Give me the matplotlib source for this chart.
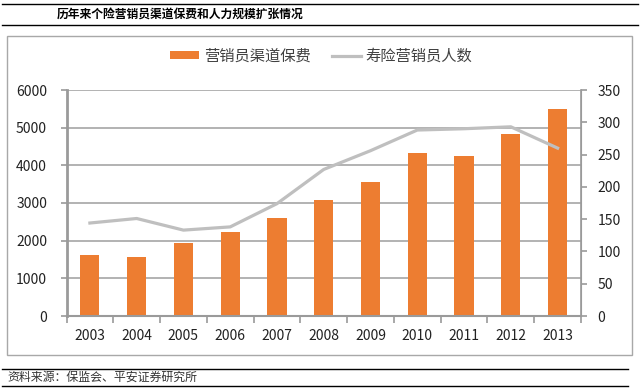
import matplotlib
matplotlib.use("Agg")
import matplotlib.pyplot as plt
from matplotlib.lines import Line2D
from matplotlib.patches import Rectangle, Patch
import numpy as np

plt.rcParams['font.family'] = ['Noto Sans CJK SC', 'DejaVu Sans']

years = ['2003', '2004', '2005', '2006', '2007', '2008', '2009', '2010', '2011', '2012', '2013']
premium = [1620, 1575, 1945, 2225, 2595, 3080, 3565, 4320, 4260, 4830, 5495]
agents = [144, 151, 133, 138, 174, 227, 256, 288, 290, 293, 260]

title = '历年来个险营销员渠道保费和人力规模扩张情况'
source = '资料来源：保监会、平安证券研究所'
bar_label = '营销员渠道保费'
line_label = '寿险营销员人数'

ORANGE = '#ED7D31'
LGRAY = '#BFBFBF'
AXGRAY = '#9a9a9a'
TXT = '#222222'

W, H = 640, 391
fig = plt.figure(figsize=(6.4, 3.91), dpi=100)

def fx(px):
    return px / W

def fy(py):
    return 1 - py / H

# header / footer rules
fig.add_artist(Line2D([fx(2), fx(638)], [fy(3.5), fy(3.5)], color='black', lw=1.0))
fig.add_artist(Line2D([fx(2), fx(638)], [fy(24.5), fy(24.5)], color='black', lw=1.0))
fig.add_artist(Line2D([fx(2), fx(628)], [fy(368.5), fy(368.5)], color='black', lw=1.0))
fig.add_artist(Line2D([fx(2), fx(628)], [fy(385.5), fy(385.5)], color='black', lw=1.0))
fig.text(fx(57), fy(14.5), title, fontsize=8.5, fontweight='bold', va='center', ha='left', color='black')
fig.text(fx(7), fy(377), source, fontsize=8.6, va='center', ha='left', color='#333333', style='italic')

# chart frame
fig.add_artist(Rectangle((fx(7), fy(355)), fx(632) - fx(7), fy(35.5) - fy(355),
                         transform=fig.transFigure, fill=False, edgecolor='#a8a8a8', lw=1.0))

ax = fig.add_axes([fx(66.5), fy(316), fx(581) - fx(66.5), fy(90) - fy(316)])
ax2 = ax.twinx()

x = np.arange(len(years))
ax.bar(x, premium, width=0.41, color=ORANGE, zorder=2)
ax2.plot(x, agents, color=LGRAY, lw=2.3, zorder=3)

ax.set_xlim(-0.5, len(years) - 0.5)
ax.set_ylim(0, 6000)
ax.set_yticks(np.arange(0, 6001, 1000))
ax2.set_ylim(0, 350)
ax2.set_yticks(np.arange(0, 351, 50))

ax.yaxis.grid(True, color='#a6a6a6', lw=1.2)
ax.set_axisbelow(True)

for a in (ax, ax2):
    a.spines['top'].set_visible(False)
    for s in ('left', 'right', 'bottom'):
        a.spines[s].set_color(AXGRAY)
ax.spines['left'].set_linewidth(2.0)
ax.spines['bottom'].set_linewidth(1.5)
ax2.spines['right'].set_linewidth(1.2)
ax2.spines['left'].set_visible(False)
ax2.spines['bottom'].set_visible(False)

ax.set_xticks(x)
ax.set_xticklabels(years)
ax.set_xticks(np.arange(-0.5, len(years), 1), minor=True)
ax.tick_params(axis='x', which='major', length=0, pad=9, labelsize=10, labelcolor=TXT)
ax.tick_params(axis='x', which='minor', length=5, width=1.2, color=AXGRAY, direction='out')
ax.tick_params(axis='y', length=4, width=1.2, color=AXGRAY, labelsize=10, labelcolor=TXT, pad=10)
ax2.tick_params(axis='y', length=4, width=1.2, color=AXGRAY, labelsize=10, labelcolor=TXT, pad=8)

handles = [Patch(facecolor=ORANGE, edgecolor='none', label=bar_label),
           Line2D([0], [0], color=LGRAY, lw=2.3, label=line_label)]
fig.legend(handles=handles, loc='center', bbox_to_anchor=(fx(321), fy(56)), ncol=2,
           frameon=False, fontsize=11, handlelength=1.9, handleheight=0.4,
           handletextpad=0.3, columnspacing=1.4, labelcolor='#404040')

fig.savefig('out.png', dpi=100)
